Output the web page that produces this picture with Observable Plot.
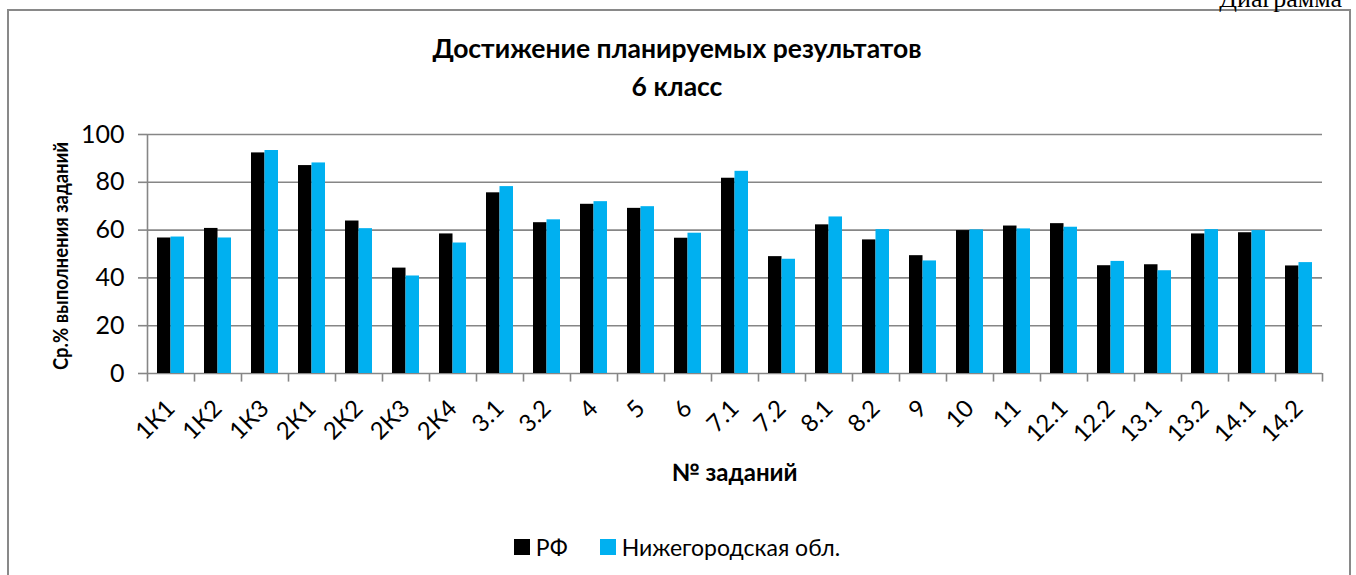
<!DOCTYPE html>
<html>
<head>
<meta charset="utf-8">
<script src="https://cdn.jsdelivr.net/npm/d3@7"></script>
<script src="https://cdn.jsdelivr.net/npm/@observablehq/plot@0.6"></script>
<style>
  html, body { margin: 0; padding: 0; background: #fff; overflow: hidden; }
  body { width: 1356px; height: 575px; position: relative; font-family: Lato, "Open Sans", sans-serif; color: #000; }
  .frame { position: absolute; left: 7px; top: 9px; width: 1344px; height: 620px; border: 2px solid #898989; box-sizing: border-box; }
  .doc { position: absolute; right: 14px; top: -16px; font-family: "Liberation Serif", serif; font-size: 26px; }
  .title { position: absolute; left: 9px; width: 1336px; top: 29px; text-align: center; font-weight: bold; font-size: 26.5px; line-height: 38px; }
  .ylabel { position: absolute; left: 60px; top: 256px; transform: translate(-50%, -50%) rotate(-90deg) scale(0.86, 1); white-space: nowrap; font-weight: bold; font-size: 21.5px; line-height: 24px; }
  .xtitle { position: absolute; left: 147px; width: 1175px; top: 457px; text-align: center; font-weight: bold; font-size: 24px; line-height: 30px; }
  .legend { position: absolute; left: 9px; width: 1336px; top: 531px; text-align: center; font-size: 23px; line-height: 30px; }
  .legend span.item { display: inline-flex; align-items: center; margin: 0 16px; }
  .legend i { display: inline-block; width: 16px; height: 16px; margin-right: 6px; }
  #chart { position: absolute; left: 0; top: 103px; }
</style>
</head>
<body>
<div class="frame"></div>
<div class="doc">Диаграмма</div>
<div class="title">Достижение планируемых результатов<br>6 класс</div>
<div class="ylabel" id="ylabel"></div>
<div id="chart"></div>
<div class="xtitle">№ заданий</div>
<div class="legend" id="legend"></div>
<script>
const categories = ["1К1","1К2","1К3","2К1","2К2","2К3","2К4","3.1","3.2","4","5","6","7.1","7.2","8.1","8.2","9","10","11","12.1","12.2","13.1","13.2","14.1","14.2"];
const rfValues   = [56.7, 60.7, 92.3, 87.0, 63.8, 44.1, 58.4, 75.6, 63.1, 70.8, 69.1, 56.6, 81.7, 48.9, 62.2, 55.9, 49.3, 59.8, 61.7, 62.7, 45.1, 45.5, 58.4, 58.9, 45.0];
const nnoValues  = [57.1, 56.7, 93.3, 88.1, 60.6, 40.8, 54.6, 78.2, 64.3, 71.9, 69.8, 58.7, 84.6, 47.8, 65.5, 60.2, 47.1, 60.1, 60.5, 61.2, 46.9, 43.0, 60.2, 59.8, 46.4];
const seriesNames = ["РФ", "Нижегородская обл."];
const seriesColors = ["#000000", "#00B0F0"];
const yTicks = [0, 20, 40, 60, 80, 100];
const yLabel = "Ср.% выполнения заданий";

const rows = categories.map((c, i) => ({cat: c, rf: rfValues[i], nno: nnoValues[i]}));
const first = [categories[0]];
const last = [categories[categories.length - 1]];
const bw = 47;
const grey = "#868686";
const tickLen = -3.6;

const chart = Plot.plot({
  width: 1356,
  height: 385,
  marginLeft: 147,
  marginRight: 34,
  marginTop: 31,
  marginBottom: 115,
  style: {fontFamily: "Lato, 'Open Sans', sans-serif", fontSize: "25px", color: "#000", background: "transparent"},
  x: {domain: categories, padding: 0, axis: null},
  y: {domain: [0, 100], axis: null},
  marks: [
    Plot.gridY(yTicks, {stroke: grey, strokeOpacity: 1, strokeWidth: 1.6}),
    Plot.axisY({ticks: yTicks, tickSize: 9, tickPadding: 14, stroke: grey, strokeWidth: 1.6, fontSize: 25, label: null}),
    Plot.ruleX(first, {x: d => d, dx: -bw / 2, y1: 0, y2: 100, stroke: grey, strokeWidth: 1.6}),
    Plot.ruleX(categories, {x: d => d, dx: -bw / 2, y1: tickLen, y2: 0, stroke: grey, strokeWidth: 1.6}),
    Plot.ruleX(last, {x: d => d, dx: bw / 2, y1: tickLen, y2: 0, stroke: grey, strokeWidth: 1.6}),
    Plot.barY(rows, {x: "cat", y: "rf", fill: seriesColors[0], insetLeft: 10, insetRight: 23.5}),
    Plot.barY(rows, {x: "cat", y: "nno", fill: seriesColors[1], insetLeft: 23.5, insetRight: 10}),
    Plot.axisX({tickSize: 0, tickPadding: 31, tickRotate: -45, fontSize: 24, label: null})
  ]
});
document.getElementById("chart").appendChild(chart);
document.getElementById("ylabel").textContent = yLabel;

const leg = document.getElementById("legend");
seriesNames.forEach((n, i) => {
  const s = document.createElement("span");
  s.className = "item";
  const sw = document.createElement("i");
  sw.style.background = seriesColors[i];
  s.appendChild(sw);
  s.appendChild(document.createTextNode(n));
  leg.appendChild(s);
});
</script>
</body>
</html>
